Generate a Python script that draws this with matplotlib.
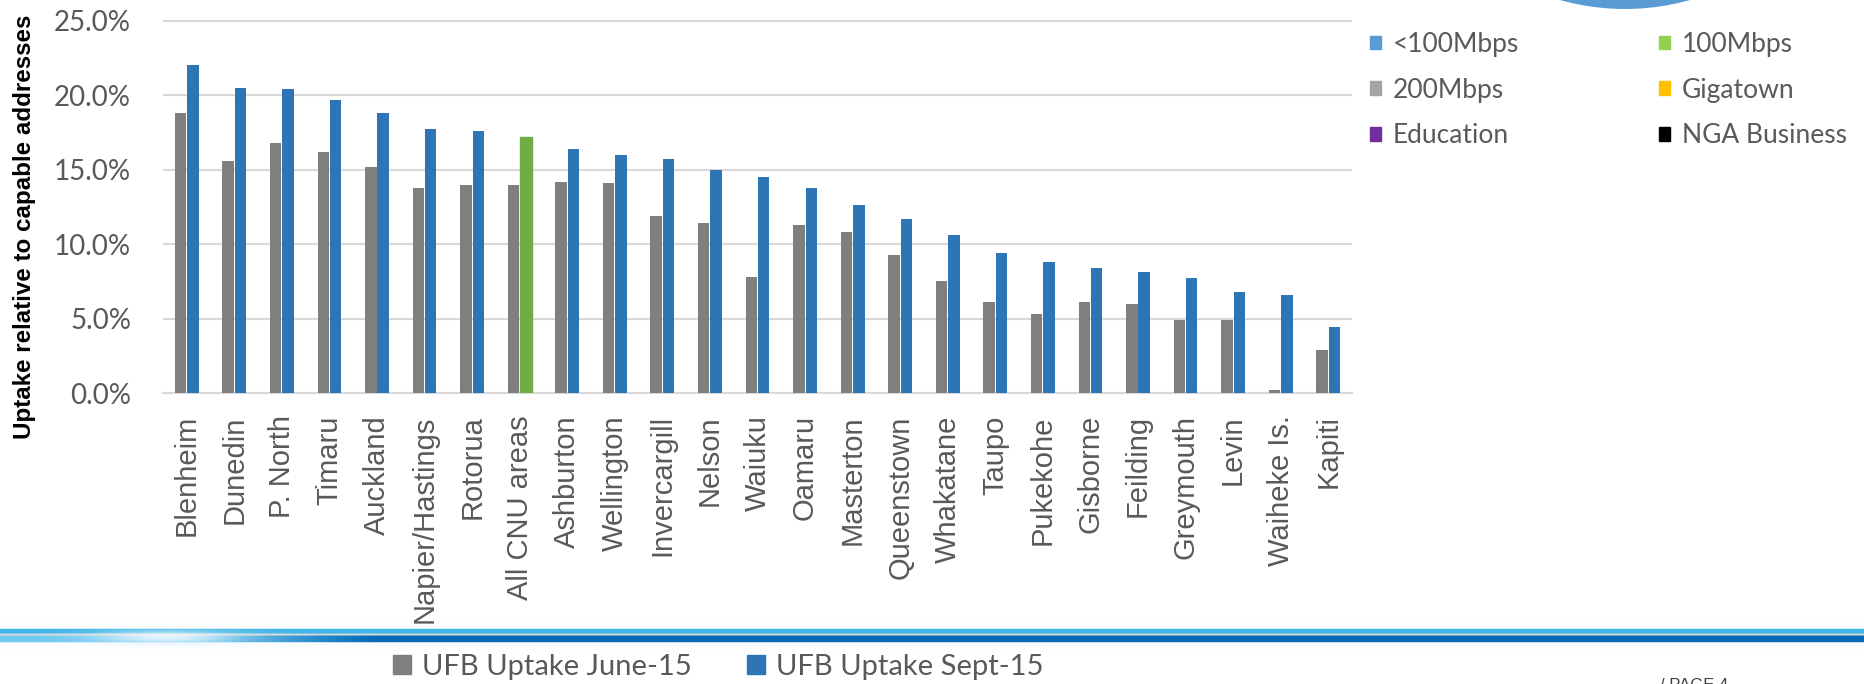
import numpy as np
import matplotlib
matplotlib.use("Agg")
import matplotlib.pyplot as plt
from matplotlib.patches import Patch, Circle

# data
areas = ["Blenheim", "Dunedin", "P. North", "Timaru", "Auckland", "Napier/Hastings",
         "Rotorua", "All CNU areas", "Ashburton", "Wellington", "Invercargill", "Nelson",
         "Waiuku", "Oamaru", "Masterton", "Queenstown", "Whakatane", "Taupo", "Pukekohe",
         "Gisborne", "Feilding", "Greymouth", "Levin", "Waiheke Is.", "Kapiti"]
june15 = [18.8, 15.6, 16.8, 16.2, 15.2, 13.8, 14.0, 14.0, 14.2, 14.1, 11.9, 11.4,
          7.8, 11.3, 10.8, 9.3, 7.5, 6.1, 5.3, 6.1, 6.0, 4.9, 4.9, 0.2, 2.9]
sept15 = [22.0, 20.5, 20.4, 19.7, 18.8, 17.7, 17.6, 17.2, 16.4, 16.0, 15.7, 15.0,
          14.5, 13.8, 12.6, 11.7, 10.6, 9.4, 8.8, 8.4, 8.1, 7.7, 6.8, 6.6, 4.4]
highlight = "All CNU areas"

speed_labels = ["<100Mbps", "200Mbps", "Education", "100Mbps", "Gigatown", "NGA Business"]
speed_colors = ["#5B9BD5", "#A5A5A5", "#7030A0", "#92D050", "#FFC000", "#000000"]

W, H = 1864, 684
fig = plt.figure(figsize=(W / 100, H / 100), dpi=100)

# decoration layer in pixel coordinates
deco = fig.add_axes([0, 0, 1, 1], zorder=-1)
deco.set_xlim(0, W)
deco.set_ylim(H, 0)
deco.axis("off")

# bottom blue band with a glow on the left
xs = np.arange(W)
ys = np.linspace(612, 662, 51)
X, Y = np.meshgrid(xs, ys)
img = np.ones((len(ys), W, 4))
img[..., 3] = 0.0
t = np.clip((X - 200) / 180.0, 0, 1)
light = np.array([62, 182, 232]) / 255.0
light2 = np.array([110, 200, 240]) / 255.0
dark = np.array([0, 104, 182]) / 255.0
top = (Y >= 629) & (Y < 634)
mid = (Y >= 634) & (Y < 636)
bot = (Y >= 636) & (Y < 643)
for k in range(3):
    img[..., k] = np.where(top, light[k], img[..., k])
    img[..., k] = np.where(mid, 0.85, img[..., k])
    img[..., k] = np.where(bot, light2[k] * (1 - t) + dark[k] * t, img[..., k])
img[..., 3] = np.where(top | mid | bot, 1.0, 0.0)
# soft haze around the band
haze = np.exp(-((Y - 636) / 9.0) ** 2) * 0.12
img[..., 3] = np.maximum(img[..., 3], haze)
hz = (img[..., 3] < 1.0)
for k, v in enumerate([0.75, 0.88, 0.97]):
    img[..., k] = np.where(hz, v, img[..., k])
# glow
g = np.exp(-((X - 165) / 70.0) ** 2 - ((Y - 637) / 7.0) ** 2)
for k in range(3):
    img[..., k] = img[..., k] * (1 - 0.8 * g) + 0.8 * g
img[..., 3] = np.maximum(img[..., 3], np.clip(g * 1.2, 0, 1) * 0.9)
deco.imshow(img, extent=[0, W, ys[-1], ys[0]], aspect="auto", interpolation="bilinear")

# blue circle peeking in at top right
deco.add_patch(Circle((1625, -230), 239, color="#5B9BD5", lw=0))

# main bar chart
ax = fig.add_axes([163 / W, (H - 393) / H, (1352 - 163) / W, (393 - 20) / H])
x = np.arange(len(areas))
bw = 0.24
b1 = ax.bar(x - 0.13, np.array(june15) / 100, bw, color="#7F7F7F", zorder=3,
            label="UFB Uptake June-15")
b2 = ax.bar(x + 0.13, np.array(sept15) / 100, bw, color="#2E75B6", zorder=3,
            label="UFB Uptake Sept-15")
b2[areas.index(highlight)].set_color("#70AD47")

ax.set_xlim(-0.5, len(areas) - 0.5)
ax.set_ylim(0, 0.2505)
ax.set_yticks(np.arange(0, 0.26, 0.05))
ax.set_yticklabels([f"{v * 100:.1f}%" for v in np.arange(0, 0.26, 0.05)],
                   family="Lato", fontsize=20, color="#595959")
ax.set_xticks(x)
ax.set_xticklabels(areas, rotation=90, family="Liberation Sans", fontsize=21,
                   color="#595959", va="top", ha="center")
ax.tick_params(axis="both", length=0)
ax.tick_params(axis="y", pad=23)
ax.tick_params(axis="x", pad=16)
ax.grid(axis="y", color="#D9D9D9", lw=1.5, zorder=0)
for s in ["top", "right", "left"]:
    ax.spines[s].set_visible(False)
ax.spines["bottom"].set_color("#D9D9D9")
ax.spines["bottom"].set_linewidth(1.5)
ax.patch.set_alpha(0)

fig.text(25 / W, 1 - 227 / H, "Uptake relative to capable addresses", rotation=90,
         ha="center", va="center", family="Liberation Sans", fontweight="bold",
         fontsize=17.4, color="black")

# legend of the series, at the bottom
g_patch = Patch(color="#7F7F7F")
b_patch = Patch(color="#2E75B6")
fig.legend([g_patch, b_patch], ["UFB Uptake June-15", "UFB Uptake Sept-15"],
           loc="center left", bbox_to_anchor=(393 / W, 17 / H), ncol=2,
           frameon=False, borderpad=0, borderaxespad=0,
           handlelength=0.62, handleheight=0.62, handletextpad=0.38,
           columnspacing=1.9, prop={"family": "Lato", "size": 21},
           labelcolor="#595959")

# speed tier legend at top right
fig.legend([Patch(color=c) for c in speed_colors], speed_labels,
           loc="upper left", bbox_to_anchor=(1370 / W, 1 - 32 / H), ncol=2,
           frameon=False, borderpad=0, borderaxespad=0,
           handlelength=0.42, handleheight=0.42, handletextpad=0.45,
           labelspacing=0.78, columnspacing=5.3,
           prop={"family": "Lato", "size": 19}, labelcolor="#595959")

fig.text(1660 / W, 1 - 678 / H, "/ PAGE 4", ha="left", va="top",
         family="Liberation Sans", fontsize=12, color="#404040")

plt.savefig("out.png", dpi=100)
